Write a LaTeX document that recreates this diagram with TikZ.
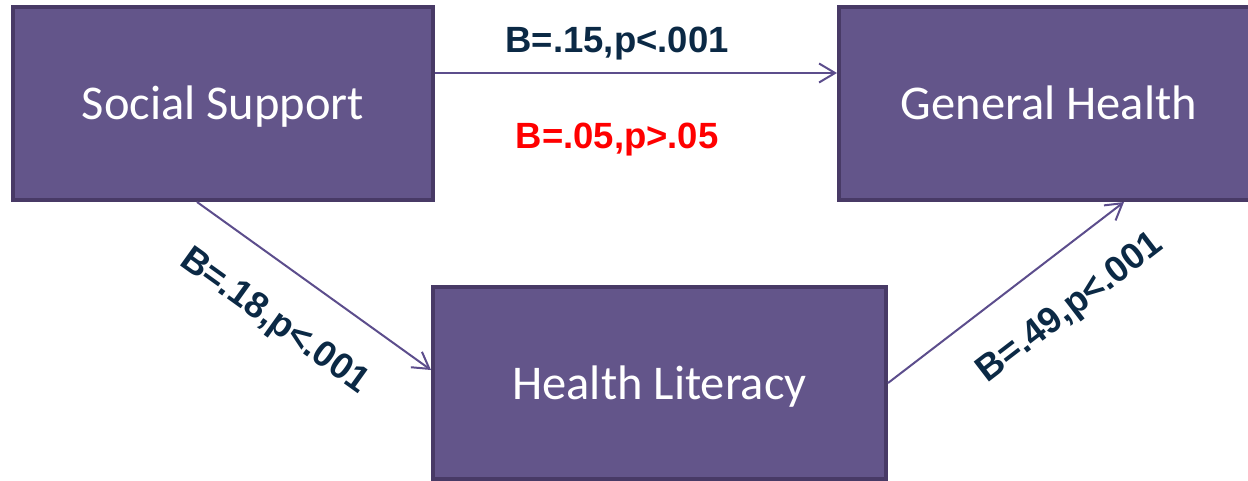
\documentclass[tikz,border=0pt]{standalone}
\usepackage{fontspec}
\setmainfont{Liberation Sans}
\newfontfamily\boxfont{Carlito}
\usetikzlibrary{arrows.meta, positioning}
\definecolor{boxfill}{HTML}{63558A}
\definecolor{boxline}{HTML}{483A66}
\definecolor{arrcol}{HTML}{5C4D8C}
\definecolor{labnavy}{HTML}{0B2945}

\begin{document}
\begin{tikzpicture}[x=1pt, y=-1pt, >={Straight Barb[length=16pt,width=19pt]}]
\tikzstyle{bx}=[draw=boxline, fill=boxfill, line width=4pt, minimum width=420pt, minimum height=193pt, text height=40pt, text depth=8pt, text=white, font=\boxfont\fontsize{48.5}{52}\selectfont]
\tikzstyle{arr}=[->, draw=arrcol, line width=2pt]
\tikzstyle{lab}=[inner sep=0pt, text=labnavy, font=\bfseries\fontsize{36.5}{40}\selectfont]
\useasboundingbox (0,0) rectangle (1248,481);

\node[bx] (SS) at (223,103.5) {Social Support};
\node[bx, right=402pt of SS] (GH) {General Health};
\node[bx, minimum width=453pt, minimum height=192pt, below right=83pt and -4pt of SS] (HL) {Health Literacy};

\draw[arr] ([yshift=30.5pt]SS.east) -- node[lab, above=12pt, pos=.453] {B=.15,p<.001} node[lab, below=49pt, text=red, pos=.453] {B=.05,p>.05} ([yshift=30.5pt]GH.west);
\draw[arr] ([xshift=-26pt]SS.south) -- node[lab, sloped, below=35pt, pos=.46] {B=.18,p<.001} ([yshift=13pt]HL.west);
\draw[arr] (HL.east) -- node[lab, sloped, below=35pt, pos=.64] {B=.49,p<.001} ([xshift=75pt]GH.south);
\end{tikzpicture}
\end{document}
